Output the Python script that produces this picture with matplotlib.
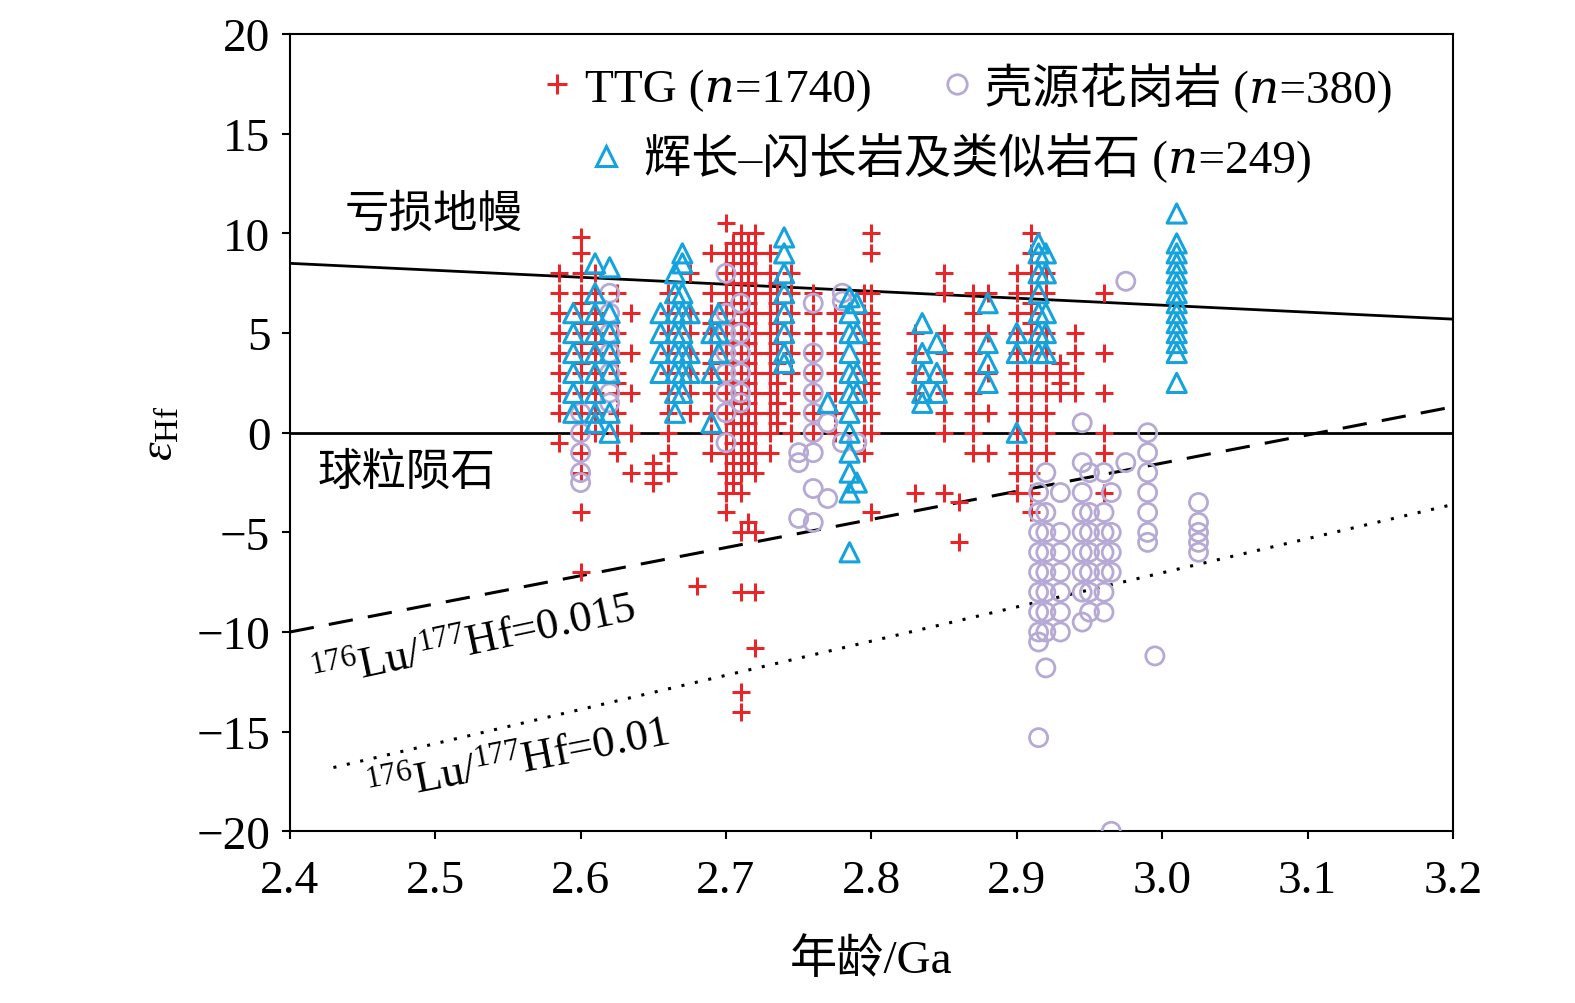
import matplotlib
matplotlib.use("Agg")
import matplotlib.pyplot as plt
from matplotlib.lines import Line2D

plt.rcParams['font.family'] = ['Liberation Serif', 'Noto Sans CJK SC', 'DejaVu Serif']
plt.rcParams['mathtext.fontset'] = 'custom'
plt.rcParams['mathtext.rm'] = 'Liberation Serif'
plt.rcParams['mathtext.it'] = 'Liberation Serif:italic'

# TTG columns: (age, [eHf values])
ttg_cols = [
    (2.585, [8, 7, 6, 5, 4, 3, 2, 1, -0.5]),
    (2.600, [9.8, 9, 8, 7, 6.5, 6, 5.5, 5, 4.5, 4, 3.5, 3, 2, 1, 0, -1, -2, -4, -7]),
    (2.610, [8, 7, 6, 5.5, 5, 4.5, 4, 3, 2, 1, 0]),
    (2.625, [7, 5, 4, 3, 2.5, 2, 1, 0, -1]),
    (2.635, [6, 4, 2, 0, -2]),
    (2.650, [-1.5, -2, -2.5]),
    (2.660, [7, 6, 5, 4, 3, 2, 1, 0, -1, -2]),
    (2.675, [8, 6, 5, 4, 3, 2, 1]),
    (2.680, [-7.7]),
    (2.690, [9, 7, 6, 5.5, 5, 4, 3.5, 3, 2, 1, 0, -1]),
    (2.700, [10.5, 9, 8, 7, 6.5, 6, 5.5, 5, 4.5, 4, 3.5, 3, 2.5, 2, 1, 0, -1, -2, -3, -4]),
    (2.705, [9.5, 8.5, 7.5, 6.5, 5.5, 4.5, 3.5, 2.5, 1.5, 0.5, -0.5, -1.5, -2.5]),
    (2.710, [10, 9, 8, 7, 6, 5, 4.5, 4, 3.5, 3, 2, 1, 0, -1, -2, -3, -5, -8, -13, -14]),
    (2.715, [9.5, 8.5, 7.5, 6.5, 5.5, 4.5, 3.5, 2.5, 1.5, 0.5, -0.5, -1.5, -4.5]),
    (2.720, [10, 9, 8, 7, 6, 5, 4, 3, 2, 1, 0, -1, -2, -5, -8, -10.8]),
    (2.730, [9, 8, 7, 6, 5, 4, 3, 2, 1, 0, -1]),
    (2.735, [7.5, 6.5, 5.5, 4.5, 3.5, 2.5, 1.5, 0.5]),
    (2.745, [8, 7, 6, 5, 4, 3, 2, 1, 0]),
    (2.760, [7, 6, 5, 4, 3, 2, 1, 0]),
    (2.775, [6, 5, 4, 3, 2, 1, 0]),
    (2.795, [7, 6, 5, 4, 3, 2, 1, 0, -1]),
    (2.800, [10, 9, 7, 6, 5.5, 5, 4.5, 4, 3.5, 3, 2.5, 2, 1, 0, -4]),
    (2.830, [5, 4, 3, 2, -3]),
    (2.850, [8, 7, 5, 4, 3, 2, 1, 0, -3]),
    (2.860, [-3.5, -5.5]),
    (2.870, [7, 6, 5, 4, 3, 2, 1, 0, -1]),
    (2.880, [7, 5, 3, 1, -1]),
    (2.900, [8, 7, 6, 5, 4, 3, 2, 1, 0, -1, -2, -3]),
    (2.910, [10, 9, 8, 7, 6.5, 6, 5.5, 5, 4, 3, 2, 1, 0, -1, -2, -3, -4]),
    (2.920, [8, 7, 5, 4, 3, 2, 1, 0, -1]),
    (2.930, [3.5, 3, 2.5, 2]),
    (2.940, [5, 4, 3, 2]),
    (2.960, [7, 4, 2, 0, -1, -3]),
]

crust_cols = [
    (2.600, [1, 0, -1, -2, -2.5]),
    (2.620, [7, 6, 5, 4, 3, 2, 1.5]),
    (2.700, [8, 6, 5, 4, 3, 2, 1, -0.5]),
    (2.710, [6.5, 5, 4, 3, 2, 1.5]),
    (2.750, [-1, -1.5, -4.3]),
    (2.760, [6.5, 4, 3, 2, 1, 0, -1, -2.8, -4.5]),
    (2.770, [0.5, -3.3]),
    (2.780, [7, 6.6, -0.5]),
    (2.790, [-0.5]),
    (2.915, [-3, -4, -5, -6, -7, -8, -9, -10, -10.5, -15.3]),
    (2.920, [-2, -4, -5, -6, -7, -8, -9, -10, -11.8]),
    (2.930, [-3, -5, -6, -7, -8, -9, -10]),
    (2.945, [0.5, -1.5, -3, -4, -5, -6, -7, -8, -9.5]),
    (2.950, [-2, -4, -5, -6, -7, -8, -9]),
    (2.960, [-2, -4, -5, -6, -7, -8, -9]),
    (2.965, [-3, -5, -6, -7, -20]),
    (2.975, [7.6, -1.5]),
    (2.990, [0, -1, -2, -3, -4, -5, -5.5]),
    (2.995, [-11.2]),
    (3.025, [-3.5, -4.5, -5, -5.5, -6]),
]

gab_cols = [
    (2.595, [6, 5, 4, 3, 2, 1]),
    (2.610, [8.5, 7, 6, 5, 4, 3, 2, 1, 0.5]),
    (2.620, [8.3, 6, 5, 4, 3, 1, 0]),
    (2.655, [6, 5, 4, 3]),
    (2.665, [8, 7, 6, 5, 4, 3, 2, 1]),
    (2.670, [9, 8.5, 7, 6, 5, 4, 3, 2]),
    (2.675, [6, 4, 3]),
    (2.690, [5, 3, 0.5]),
    (2.695, [6, 5, 4]),
    (2.740, [9.8, 9, 8, 7, 6, 5, 4, 3.5]),
    (2.770, [1.5]),
    (2.785, [6.8, 6, 5, 4, 3, 2, 1, 0, -1, -2, -3, -6]),
    (2.790, [6.5, 5, 3, 2, -2.5]),
    (2.835, [5.5, 4, 3, 2, 1.5]),
    (2.845, [4.5, 3, 2]),
    (2.880, [6.5, 4.5, 3.5, 2.5]),
    (2.900, [5, 4, 0]),
    (2.915, [9.5, 9, 8, 7, 6, 5, 4]),
    (2.920, [9, 8, 6, 5, 4]),
    (3.010, [11, 9.5, 9, 8.5, 8, 7.5, 7, 6.5, 6, 5.5, 5, 4.5, 4, 2.5]),
]

# reference lines: (x0, x1), (y0, y1)
mantle_line = ([2.4, 3.2], [8.5, 5.7])
dash_line = ([2.4, 3.2], [-10, 1.3])
dot_line = ([2.43, 3.2], [-16.8, -3.6])


def flatten(cols):
    xs, ys = [], []
    for x, yl in cols:
        xs += [x] * len(yl)
        ys += yl
    return xs, ys


fig = plt.figure(figsize=(15.75, 10.04), dpi=100)
ax = fig.add_axes([0.184, 0.171, 0.7385, 0.794])

tx, ty = flatten(ttg_cols)
cx, cy = flatten(crust_cols)
gx, gy = flatten(gab_cols)
red, lav, blue = '#e8262a', '#b7a9d6', '#14a3dc'
ax.scatter(tx, ty, marker='+', s=160, c=red, linewidths=2.2, zorder=3)
ax.scatter(cx, cy, marker='o', s=170, facecolors='none', edgecolors=lav, linewidths=2, zorder=3)
ax.scatter(gx, gy, marker='^', s=190, facecolors='none', edgecolors=blue, linewidths=2.2, zorder=4)

ax.plot(*mantle_line, color='black', lw=2)
ax.axhline(0, color='black', lw=2)
ax.plot(*dash_line, color='black', lw=2.2, dashes=(8, 5))
ax.plot(*dot_line, color='black', lw=2.2, linestyle=(0, (1, 3.5)))

ax.set_xlim(2.4, 3.2)
ax.set_ylim(-20, 20)
ax.set_xticks([2.4, 2.5, 2.6, 2.7, 2.8, 2.9, 3.0, 3.1, 3.2])
ax.set_yticks(range(-20, 21, 5))
ax.set_yticklabels(['\u221220', '\u221215', '\u221210', '\u22125', '0', '5', '10', '15', '20'])
ax.tick_params(labelsize=34, width=1.5, length=6, pad=8)
ax.tick_params(axis='x', pad=14)
for s in ax.spines.values():
    s.set_linewidth(1.5)
ax.set_xlabel('年龄/Ga', fontsize=34, labelpad=26)
ax.set_ylabel(r'$\varepsilon_{\mathrm{Hf}}$', fontsize=34, labelpad=10)

ax.text(2.438, 11, '亏损地幔', fontsize=32, va='center')
ax.text(2.419, -2, '球粒陨石', fontsize=32, va='center')
ax.text(2.417, -12.8, r'$^{176}$Lu/$^{177}$Hf=0.015', fontsize=32, rotation=12, rotation_mode='anchor')
ax.text(2.455, -18.5, r'$^{176}$Lu/$^{177}$Hf=0.01', fontsize=32, rotation=11, rotation_mode='anchor')

h_ttg = Line2D([], [], ls='', marker='+', ms=15, mew=2.2, color=red)
h_cr = Line2D([], [], ls='', marker='o', ms=14, mfc='none', mew=2, color=lav)
h_gb = Line2D([], [], ls='', marker='^', ms=15, mfc='none', mew=2.2, color=blue)
leg1 = ax.legend([h_ttg, h_cr], ['TTG (\U0001D45B=1740)', '壳源花岗岩 (\U0001D45B=380)'], ncol=2,
                 loc='upper right', bbox_to_anchor=(0.985, 1.02), frameon=False, fontsize=34,
                 handletextpad=0.1, columnspacing=1.3, handlelength=1.0)
ax.add_artist(leg1)
ax.legend([h_gb], ['辉长–闪长岩及类似岩石 (\U0001D45B=249)'], loc='upper left',
          bbox_to_anchor=(0.215, 0.93), frameon=False, fontsize=34,
          handletextpad=0.3, handlelength=1.0)

fig.savefig('out.png', dpi=100)
